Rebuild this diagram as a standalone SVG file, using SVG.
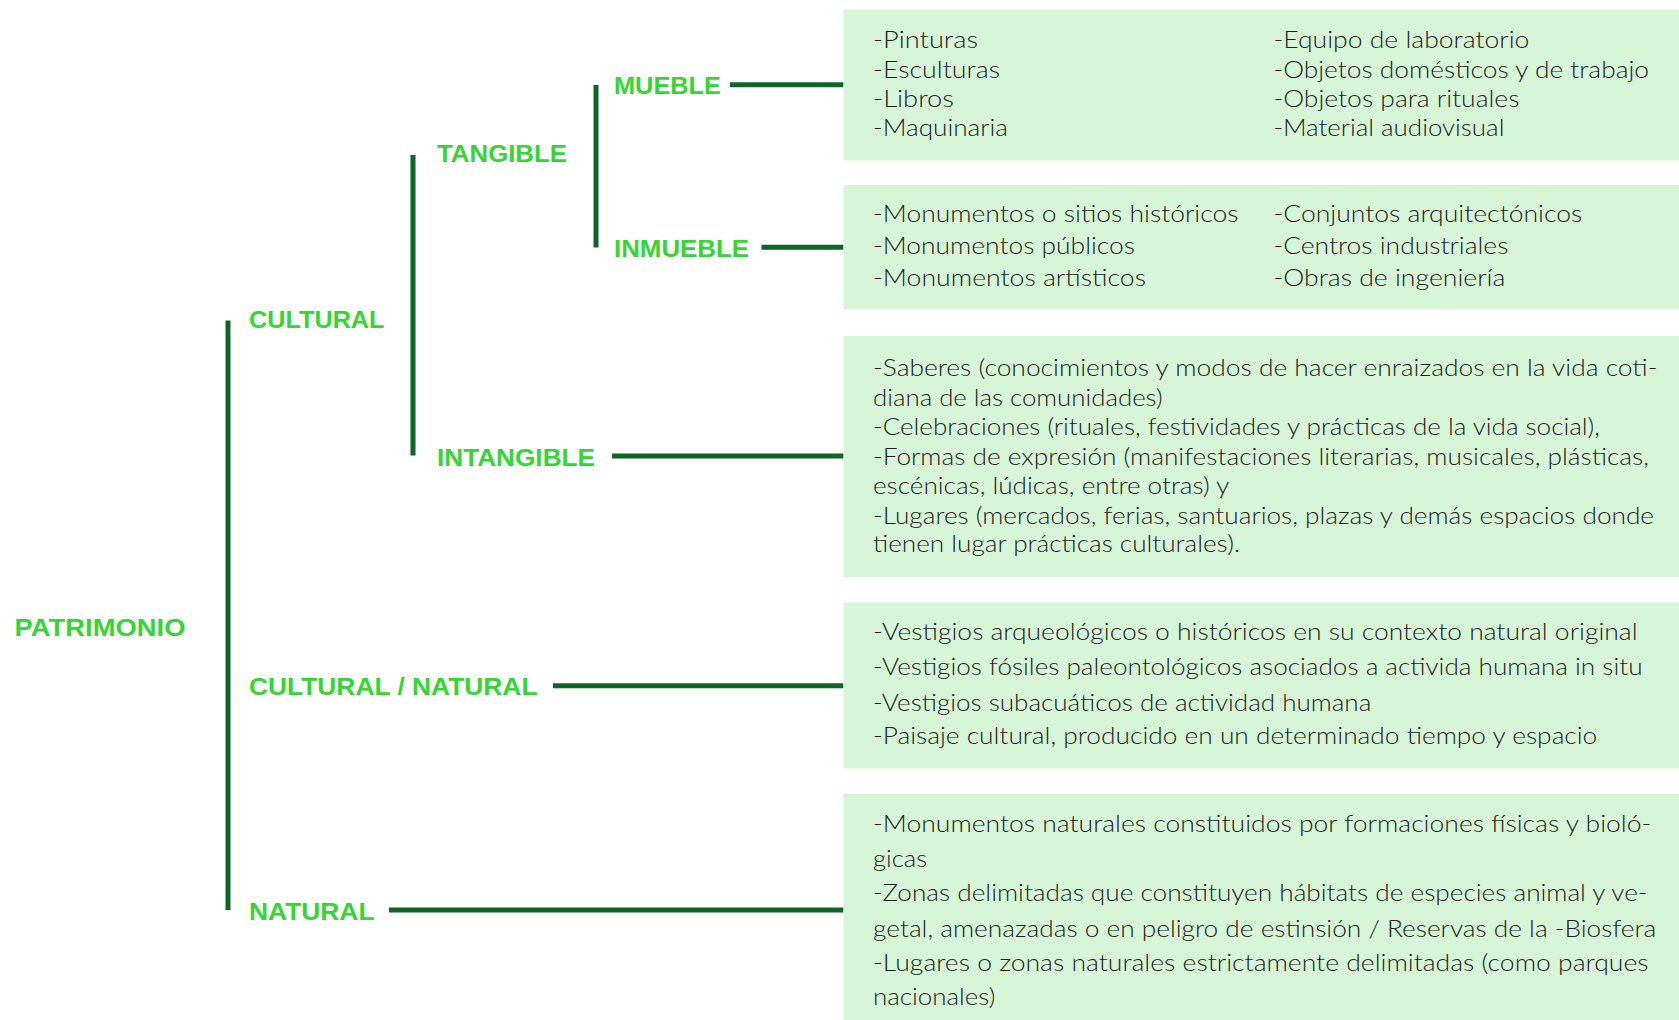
<svg xmlns="http://www.w3.org/2000/svg" width="1679" height="1020" viewBox="0 0 1679 1020">
<style>
.lbl{font-family:"Liberation Sans",Arial,sans-serif;font-weight:bold;font-size:24px;fill:#33d633}
.box{fill:#d7f5d7}
.t{font-family:Lato,"Open Sans","Liberation Sans",sans-serif;font-weight:300;font-size:22.5px;fill:#222222}
.bar{stroke:#0d6526;stroke-width:5;fill:none}
.con{stroke:#0d6526;stroke-width:5;fill:none}
</style>
<rect width="1679" height="1020" fill="#ffffff"/>
<g id="connectors">
<line class="bar" x1="228" y1="320.5" x2="228" y2="910"/>
<line class="bar" x1="413" y1="155" x2="413" y2="455.5"/>
<line class="bar" x1="596" y1="85" x2="596" y2="247.5"/>
<line class="con" x1="730" y1="84.7" x2="843.5" y2="84.7"/>
<line class="con" x1="761.5" y1="247.3" x2="843.5" y2="247.3"/>
<line class="con" x1="612" y1="456" x2="843.5" y2="456"/>
<line class="con" x1="553" y1="685.7" x2="843.5" y2="685.7"/>
<line class="con" x1="389" y1="910" x2="843.5" y2="910"/>
</g>
<g id="patrimonio"><text class="lbl" x="14.5" y="636" textLength="171" lengthAdjust="spacingAndGlyphs">PATRIMONIO</text></g>
<g id="cultural"><text class="lbl" x="249" y="328" textLength="135.5" lengthAdjust="spacingAndGlyphs">CULTURAL</text></g>
<g id="tangible"><text class="lbl" x="437" y="162" textLength="130" lengthAdjust="spacingAndGlyphs">TANGIBLE</text></g>
<g id="mueble"><text class="lbl" x="614" y="94" textLength="107" lengthAdjust="spacingAndGlyphs">MUEBLE</text></g>
<g id="inmueble"><text class="lbl" x="614" y="256.5" textLength="135" lengthAdjust="spacingAndGlyphs">INMUEBLE</text></g>
<g id="intangible"><text class="lbl" x="437" y="465.5" textLength="158" lengthAdjust="spacingAndGlyphs">INTANGIBLE</text></g>
<g id="cultural-natural"><text class="lbl" x="249" y="695" textLength="288.5" lengthAdjust="spacingAndGlyphs">CULTURAL / NATURAL</text></g>
<g id="natural"><text class="lbl" x="249" y="920" textLength="125.5" lengthAdjust="spacingAndGlyphs">NATURAL</text></g>
<g id="box-mueble">
<rect class="box" x="843.5" y="9.5" width="835.5" height="151"/>
<text class="t" x="873" y="48" textLength="105" lengthAdjust="spacingAndGlyphs">-Pinturas</text>
<text class="t" x="873" y="78" textLength="127" lengthAdjust="spacingAndGlyphs">-Esculturas</text>
<text class="t" x="873" y="107" textLength="81" lengthAdjust="spacingAndGlyphs">-Libros</text>
<text class="t" x="873" y="136" textLength="135" lengthAdjust="spacingAndGlyphs">-Maquinaria</text>
<text class="t" x="1273.4" y="48" textLength="256" lengthAdjust="spacingAndGlyphs">-Equipo de laboratorio</text>
<text class="t" x="1273.4" y="78" textLength="375.6" lengthAdjust="spacingAndGlyphs">-Objetos domésticos y de trabajo</text>
<text class="t" x="1273.4" y="107" textLength="246" lengthAdjust="spacingAndGlyphs">-Objetos para rituales</text>
<text class="t" x="1273.4" y="136" textLength="231" lengthAdjust="spacingAndGlyphs">-Material audiovisual</text>
</g>
<g id="box-inmueble">
<rect class="box" x="843.5" y="185" width="835.5" height="124.5"/>
<text class="t" x="873" y="221.5" textLength="365.4" lengthAdjust="spacingAndGlyphs">-Monumentos o sitios históricos</text>
<text class="t" x="873" y="253.5" textLength="262" lengthAdjust="spacingAndGlyphs">-Monumentos públicos</text>
<text class="t" x="873" y="285.5" textLength="273" lengthAdjust="spacingAndGlyphs">-Monumentos artísticos</text>
<text class="t" x="1273.4" y="221.5" textLength="309" lengthAdjust="spacingAndGlyphs">-Conjuntos arquitectónicos</text>
<text class="t" x="1273.4" y="253.5" textLength="235" lengthAdjust="spacingAndGlyphs">-Centros industriales</text>
<text class="t" x="1273.4" y="285.5" textLength="232" lengthAdjust="spacingAndGlyphs">-Obras de ingeniería</text>
</g>
<g id="box-intangible">
<rect class="box" x="843.5" y="336" width="835.5" height="241"/>
<text class="t" x="873" y="375.5" textLength="784.5" lengthAdjust="spacingAndGlyphs">-Saberes (conocimientos y modos de hacer enraizados en la vida coti-</text>
<text class="t" x="873" y="405.5" textLength="289.7" lengthAdjust="spacingAndGlyphs">diana de las comunidades)</text>
<text class="t" x="873" y="434.5" textLength="727" lengthAdjust="spacingAndGlyphs">-Celebraciones (rituales, festividades y prácticas de la vida social),</text>
<text class="t" x="873" y="464.5" textLength="776" lengthAdjust="spacingAndGlyphs">-Formas de expresión (manifestaciones literarias, musicales, plásticas,</text>
<text class="t" x="873" y="493.5" textLength="356.3" lengthAdjust="spacingAndGlyphs">escénicas, lúdicas, entre otras) y</text>
<text class="t" x="873" y="523.5" textLength="781" lengthAdjust="spacingAndGlyphs">-Lugares (mercados, ferias, santuarios, plazas y demás espacios donde</text>
<text class="t" x="873" y="552" textLength="367" lengthAdjust="spacingAndGlyphs">tienen lugar prácticas culturales).</text>
</g>
<g id="box-cultural-natural">
<rect class="box" x="843.5" y="602.5" width="835.5" height="166"/>
<text class="t" x="873" y="640" textLength="764.5" lengthAdjust="spacingAndGlyphs">-Vestigios arqueológicos o históricos en su contexto natural original</text>
<text class="t" x="873" y="675" textLength="769.5" lengthAdjust="spacingAndGlyphs">-Vestigios fósiles paleontológicos asociados a activida humana in situ</text>
<text class="t" x="873" y="710.5" textLength="498.3" lengthAdjust="spacingAndGlyphs">-Vestigios subacuáticos de actividad humana</text>
<text class="t" x="873" y="744" textLength="724.3" lengthAdjust="spacingAndGlyphs">-Paisaje cultural, producido en un determinado tiempo y espacio</text>
</g>
<g id="box-natural">
<rect class="box" x="843.5" y="794" width="835.5" height="226"/>
<text class="t" x="873" y="831.7" textLength="778.3" lengthAdjust="spacingAndGlyphs">-Monumentos naturales constituidos por formaciones físicas y bioló-</text>
<text class="t" x="873" y="867" textLength="54" lengthAdjust="spacingAndGlyphs">gicas</text>
<text class="t" x="873" y="901.3" textLength="774.5" lengthAdjust="spacingAndGlyphs">-Zonas delimitadas que constituyen hábitats de especies animal y ve-</text>
<text class="t" x="873" y="936.7" textLength="783.2" lengthAdjust="spacingAndGlyphs">getal, amenazadas o en peligro de estinsión / Reservas de la -Biosfera</text>
<text class="t" x="873" y="971" textLength="775.5" lengthAdjust="spacingAndGlyphs">-Lugares o zonas naturales estrictamente delimitadas (como parques</text>
<text class="t" x="873" y="1005" textLength="122.5" lengthAdjust="spacingAndGlyphs">nacionales)</text>
</g>
</svg>
